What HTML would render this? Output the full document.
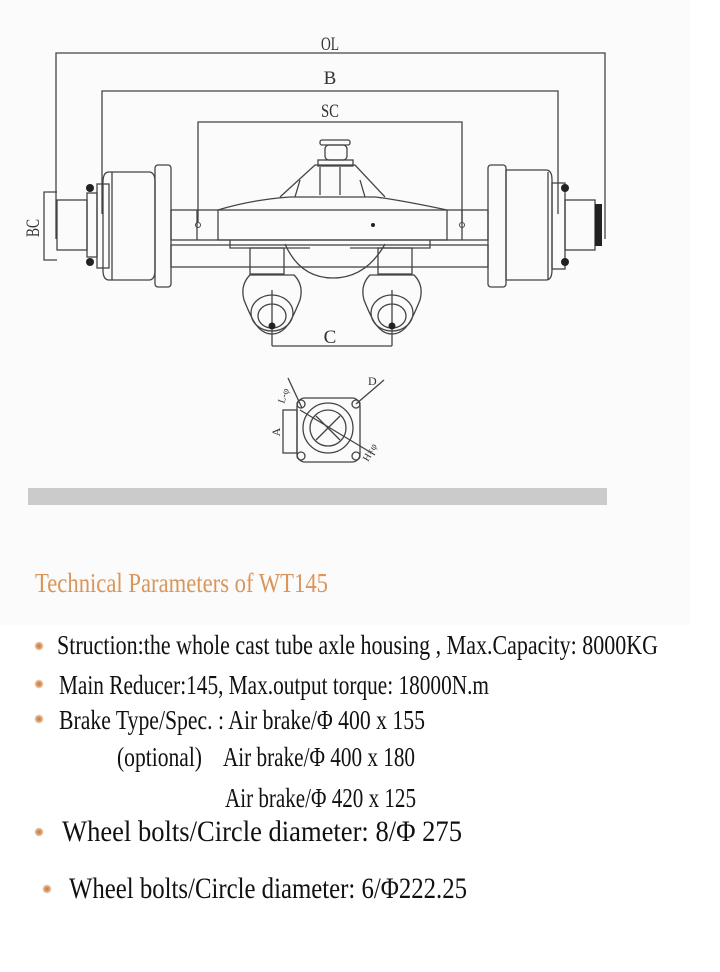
<!DOCTYPE html>
<html><head><meta charset="utf-8"><style>
html,body{margin:0;padding:0;background:#fff;}
svg{display:block;}
text{font-family:"Liberation Serif",serif;}
.d{font-family:"Liberation Sans",sans-serif;}
</style></head><body>
<svg width="720" height="972" viewBox="0 0 720 972" xmlns="http://www.w3.org/2000/svg">
<defs>
<radialGradient id="bl" cx="50%" cy="50%" r="50%"><stop offset="0" stop-color="#c9793a"/><stop offset="0.6" stop-color="#dca070"/><stop offset="1" stop-color="#f6e6d6"/></radialGradient>
</defs>
<rect width="720" height="972" fill="#fff"/>
<rect x="0" y="0" width="690" height="625" fill="#fbfbfb"/>
<g fill="none" stroke="#444" stroke-width="1.3">
<polyline points="56,239 56,53 605,53 605,239"/>
<polyline points="102,214 102,91 558,91 558,214"/>
<polyline points="198,222 198,122 462,122 462,222"/>
<polyline points="57,192 44,192 44,260 57,260"/>
<rect x="57" y="200" width="30" height="50"/>
<rect x="87" y="193" width="10" height="64"/>
<rect x="97" y="184" width="12" height="84"/>
<path d="M109,172 h40 q6,0 6,10 v88 q0,10 -6,10 h-40 q-6,0 -6,-10 v-88 q0,-10 6,-10z" />
<line x1="112" y1="172" x2="112" y2="280"/>
<rect x="155" y="165" width="16" height="122" rx="3"/>
<rect x="488" y="165" width="18" height="122" rx="3"/>
<path d="M506,170 h40 q6,0 6,10 v90 q0,10 -6,10 h-40z"/>
<line x1="548" y1="172" x2="548" y2="280"/>
<rect x="552" y="183" width="13" height="86"/>
<rect x="565" y="200" width="30" height="50"/>
<rect x="171" y="210" width="317" height="30"/>
<rect x="171" y="245" width="317" height="22"/>
<line x1="197" y1="210" x2="197" y2="240"/>
<line x1="462" y1="210" x2="462" y2="240"/>
<path d="M218,210 L218,240 L447,240 L447,210 Q400,200 375,197 L290,197 Q250,200 218,210z"/>
<path d="M285,244 Q300,278 333,278 Q366,278 385,244"/>
<path d="M230,240 v8 h80 M350,248 h80 v-8"/>
<path d="M280,197 L315,165 L355,165 L385,197"/>
<rect x="318" y="160" width="35" height="6"/>
<rect x="325" y="145" width="22" height="15" rx="4"/>
<rect x="320" y="140" width="30" height="5" rx="2"/>
<line x1="320" y1="167" x2="320" y2="195"/>
<line x1="340" y1="167" x2="340" y2="195"/>
<line x1="300" y1="180" x2="295" y2="197"/>
<line x1="360" y1="180" x2="365" y2="197"/>
<rect x="250" y="248" width="34" height="26"/>
<rect x="378" y="248" width="34" height="26"/>
<path d="M250,275 Q240,285 244,300 Q248,310 252,318 Q260,334 272,334 Q284,334 292,318 Q296,310 300,300 Q304,285 294,275z"/>
<path d="M370,275 Q360,285 364,300 Q368,310 372,318 Q380,334 392,334 Q404,334 412,318 Q416,310 420,300 Q424,285 414,275z"/>
<ellipse cx="272" cy="313" rx="21" ry="18"/>
<ellipse cx="272" cy="316" rx="14" ry="12"/>
<ellipse cx="392" cy="313" rx="21" ry="18"/>
<ellipse cx="392" cy="316" rx="14" ry="12"/>
<line x1="272" y1="290" x2="272" y2="346"/>
<line x1="392" y1="290" x2="392" y2="346"/>
<polyline points="272,346 392,346" />
<rect x="297" y="398" width="63" height="64" rx="8"/>
<rect x="283" y="410" width="14" height="43"/>
<circle cx="328" cy="428" r="25"/>
<circle cx="328" cy="428" r="18"/>
<line x1="316" y1="416" x2="340" y2="440"/>
<line x1="340" y1="416" x2="316" y2="440"/>
<circle cx="301" cy="404" r="4"/><circle cx="356" cy="404" r="4"/>
<circle cx="301" cy="456" r="4"/><circle cx="356" cy="456" r="4"/>
<line x1="288" y1="378" x2="302" y2="408"/>
<line x1="300" y1="410" x2="375" y2="455"/>
<line x1="356" y1="404" x2="384" y2="380"/>
</g>
<g fill="#222">
<circle cx="90" cy="188" r="4"/><circle cx="90" cy="262" r="4"/>
<circle cx="565" cy="188" r="4"/><circle cx="565" cy="262" r="4"/>
<rect x="595" y="204" width="7" height="42"/>
<circle cx="272" cy="326" r="3.5"/><circle cx="392" cy="326" r="3.5"/>
<circle cx="198" cy="225" r="2.5" fill="none" stroke="#444"/>
<circle cx="462" cy="225" r="2.5" fill="none" stroke="#444"/>
<circle cx="373" cy="225" r="2"/>
</g>
<g fill="#333" font-size="19" class="d">
<text x="330" y="50" text-anchor="middle" textLength="18" lengthAdjust="spacingAndGlyphs">OL</text>
<text x="330" y="84" text-anchor="middle">B</text>
<text x="330" y="117" text-anchor="middle" textLength="18" lengthAdjust="spacingAndGlyphs">SC</text>
<text x="330" y="343" text-anchor="middle">C</text>
<text transform="translate(39,228) rotate(-90)" text-anchor="middle" textLength="18" lengthAdjust="spacingAndGlyphs">BC</text>
<text transform="translate(280,432) rotate(-90)" font-size="12" text-anchor="middle">A</text>
<text x="368" y="385" font-size="12">D</text>
<text transform="translate(368,462) rotate(-60)" font-size="10">H×φ</text>
<text transform="translate(284,404) rotate(-70)" font-size="10">L-φ</text>
</g>
<rect x="28" y="488" width="579" height="17" fill="#cbcbcb"/>
<text x="35" y="592" font-size="27" fill="#d9955a" textLength="293" lengthAdjust="spacingAndGlyphs">Technical Parameters of WT145</text>
<g fill="#111">
<circle cx="39" cy="646" r="4.5" fill="url(#bl)"/>
<circle cx="39" cy="684" r="4.5" fill="url(#bl)"/>
<circle cx="39" cy="719" r="4.5" fill="url(#bl)"/>
<circle cx="39" cy="832" r="4.5" fill="url(#bl)"/>
<circle cx="47" cy="889" r="4.5" fill="url(#bl)"/>
<text x="57" y="654" font-size="27" textLength="601" lengthAdjust="spacingAndGlyphs">Struction:the whole cast tube axle housing , Max.Capacity: 8000KG</text>
<text x="59" y="694" font-size="27" textLength="430" lengthAdjust="spacingAndGlyphs">Main Reducer:145, Max.output torque: 18000N.m</text>
<text x="59" y="729" font-size="27" textLength="366" lengthAdjust="spacingAndGlyphs">Brake Type/Spec. : Air brake/Φ 400 x  155</text>
<text x="117" y="766" font-size="27" textLength="85" lengthAdjust="spacingAndGlyphs">(optional)</text>
<text x="223" y="766" font-size="27" textLength="192" lengthAdjust="spacingAndGlyphs">Air brake/Φ 400 x 180</text>
<text x="225" y="807" font-size="27" textLength="191" lengthAdjust="spacingAndGlyphs">Air brake/Φ 420 x 125</text>
<text x="62" y="841" font-size="30" textLength="400" lengthAdjust="spacingAndGlyphs">Wheel bolts/Circle diameter: 8/Φ 275</text>
<text x="69" y="898" font-size="30" textLength="398" lengthAdjust="spacingAndGlyphs">Wheel bolts/Circle diameter: 6/Φ222.25</text>
</g>
</svg>
</body></html>
